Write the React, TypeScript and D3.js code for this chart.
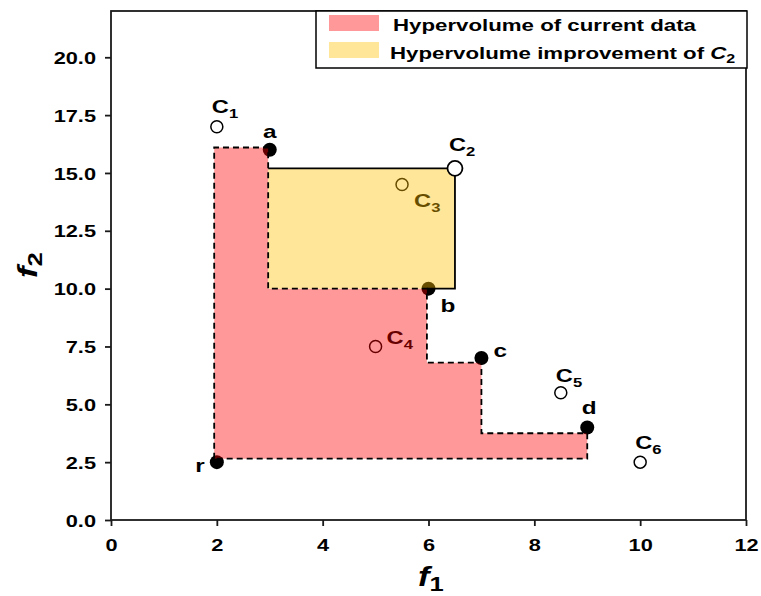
import React, { useEffect, useRef } from "react";
import * as d3 from "d3";

// tick labels
const xTicks = [0, 2, 4, 6, 8, 10, 12];
const yTicks = [0, 2.5, 5, 7.5, 10, 12.5, 15, 17.5, 20];

// current data (filled dots)
const dataNames = ["r", "a", "b", "c", "d"];
const dataF1 = [2, 3, 6, 7, 9];
const dataF2 = [2.5, 16, 10, 7, 4];

// candidates (open dots)
const candNames = ["1", "2", "3", "4", "5", "6"];
const candF1 = [2, 6.5, 5.5, 5, 8.5, 10];
const candF2 = [17, 15.2, 14.5, 7.5, 5.5, 2.5];

// hypervolume staircase of current data
const hvF1 = [1.95, 2.97, 5.97, 7.0, 9.0];
const hvF2 = [16.1, 10.0, 6.8, 3.75];
const hvRef = 2.65;

// improvement box of C2
const impF1 = [2.97, 6.5];
const impF2 = [10.0, 15.2];

const SX = 1.28; // text looks horizontally stretched in the original
const FONT = "'Liberation Sans', Arial, sans-serif";

// label offsets in px from the point
const dataLabelPos: { [k: string]: [number, number, string] } = {
  r: [-12, 10, "end"],
  a: [0, -12, "middle"],
  b: [12, 23, "start"],
  c: [12, -1, "start"],
  d: [2, -13, "middle"],
};
const candLabelPos: { [k: string]: [number, number] } = {
  "1": [-5, -14],
  "2": [-6, -17],
  "3": [12, 22],
  "4": [11, -2],
  "5": [-5, -11],
  "6": [-5, -13],
};

function Label(props: any) {
  return (
    <text
      transform={`translate(${props.x},${props.y}) scale(${SX},1)`}
      textAnchor={props.anchor || "start"}
      fontFamily={FONT}
      fontWeight="bold"
      fontSize={props.size || 18.5}
      fill="#000"
    >
      {props.children}
    </text>
  );
}

function App() {
  const xAxisRef = useRef<SVGGElement>(null);
  const yAxisRef = useRef<SVGGElement>(null);
  const margin = { top: 11, left: 111 };
  const width = 635;
  const height = 509;

  const x = d3.scaleLinear().domain([0, 12]).range([0, width]);
  const y = d3.scaleLinear().domain([0, 22]).range([height, 0]);

  useEffect(() => {
    const xa = d3.select(xAxisRef.current);
    xa.selectAll("*").remove();
    xa.call(
      d3.axisBottom(x).tickValues(xTicks).tickSize(6).tickSizeOuter(0).tickFormat(d3.format("d")) as any
    );
    xa.select(".domain").remove();
    xa.selectAll("line").attr("stroke", "#1a1a1a").attr("stroke-width", 1.8);
    xa.selectAll("text")
      .attr("y", 0)
      .attr("dy", null)
      .attr("transform", `translate(0,31) scale(${SX},1)`)
      .attr("font-family", FONT)
      .attr("font-weight", "bold")
      .attr("font-size", 17)
      .attr("fill", "#000");

    const ya = d3.select(yAxisRef.current);
    ya.selectAll("*").remove();
    ya.call(
      d3.axisLeft(y).tickValues(yTicks).tickSize(6).tickSizeOuter(0).tickFormat(d3.format(".1f")) as any
    );
    ya.select(".domain").remove();
    ya.selectAll("line").attr("stroke", "#1a1a1a").attr("stroke-width", 1.8);
    ya.selectAll("text")
      .attr("x", 0)
      .attr("dy", "0.36em")
      .attr("transform", `translate(-15,0) scale(${SX},1)`)
      .attr("font-family", FONT)
      .attr("font-weight", "bold")
      .attr("font-size", 17)
      .attr("fill", "#000");
  });

  // staircase polygon
  const stair: [number, number][] = [[hvF1[0], hvRef]];
  for (let i = 0; i < hvF2.length; i++) {
    stair.push([hvF1[i], hvF2[i]]);
    stair.push([hvF1[i + 1], hvF2[i]]);
  }
  stair.push([hvF1[hvF1.length - 1], hvRef]);
  const line = d3.line<[number, number]>().x((d) => x(d[0])).y((d) => y(d[1]));
  const stairPath = line(stair) + "Z";

  const boxSolid: [number, number][] = [
    [hvF1[2], impF2[0]],
    [impF1[1], impF2[0]],
    [impF1[1], impF2[1]],
    [impF1[0], impF2[1]],
  ];

  return (
    <svg width={761} height={596} style={{ position: "absolute", left: 0, top: 0 }}>
      <rect width={761} height={596} fill="#fff" />
      <g transform={`translate(${margin.left},${margin.top})`}>
        {/* current data points */}
        {dataNames.map((n, i) => (
          <circle key={n} cx={x(dataF1[i])} cy={y(dataF2[i])} r={7} fill="#000" />
        ))}
        {dataNames.map((n, i) => {
          const p = dataLabelPos[n];
          return (
            <Label key={"l" + n} x={x(dataF1[i]) + p[0]} y={y(dataF2[i]) + p[1]} anchor={p[2]} size={19}>
              {n}
            </Label>
          );
        })}
        {/* candidates except C2 (drawn on top later) */}
        {candNames.map((n, i) =>
          n === "2" ? null : (
            <circle key={"c" + n} cx={x(candF1[i])} cy={y(candF2[i])} r={6} fill="#fff" stroke="#000" strokeWidth={1.5} />
          )
        )}
        {candNames.map((n, i) => {
          const p = candLabelPos[n];
          return (
            <Label key={"cl" + n} x={x(candF1[i]) + p[0]} y={y(candF2[i]) + p[1]}>
              C<tspan fontSize={13} dy={5}>{n}</tspan>
            </Label>
          );
        })}

        {/* hypervolume areas, semi transparent over the points */}
        <path d={stairPath} fill="#ff0000" fillOpacity={0.4} stroke="none" />
        <rect
          x={x(impF1[0])}
          y={y(impF2[1])}
          width={x(impF1[1]) - x(impF1[0])}
          height={y(impF2[0]) - y(impF2[1])}
          fill="#ffc000"
          fillOpacity={0.4}
        />
        <path d={line(boxSolid) || ""} fill="none" stroke="#000" strokeWidth={1.8} />
        <path d={stairPath} fill="none" stroke="#000" strokeWidth={1.8} strokeDasharray="6,4" />

        {/* C2 on top */}
        <circle cx={x(candF1[1])} cy={y(candF2[1])} r={7.5} fill="#fff" stroke="#000" strokeWidth={1.8} />

        {/* axes */}
        <g ref={xAxisRef} transform={`translate(0,${height})`} />
        <g ref={yAxisRef} />
        <rect width={width} height={height} fill="none" stroke="#1a1a1a" strokeWidth={1.8} />
      </g>

      {/* legend */}
      <g>
        <rect x={316} y={11} width={431} height={57} fill="#fff" stroke="#000" strokeWidth={1.5} />
        <rect x={329} y={15} width={50} height={16} fill="#ff0000" fillOpacity={0.4} />
        <rect x={329} y={42} width={50} height={16} fill="#ffc000" fillOpacity={0.4} />
        <Label x={393} y={31} size={17.4}>Hypervolume of current data</Label>
        <Label x={390} y={59} size={17.4}>
          Hypervolume improvement of <tspan fontStyle="italic">C</tspan>
          <tspan fontSize={12.5} dy={4}>2</tspan>
        </Label>
      </g>

      {/* axis titles */}
      <text transform={`translate(418,586) scale(${SX},1)`} fontFamily={FONT} fontWeight="bold" fontSize={27}>
        <tspan fontStyle="italic">f</tspan>
        <tspan fontSize={20} dy={5}>1</tspan>
      </text>
      <text transform={`translate(37,278) rotate(-90) scale(${SX},1)`} fontFamily={FONT} fontWeight="bold" fontSize={27}>
        <tspan fontStyle="italic">f</tspan>
        <tspan fontSize={20} dy={5}>2</tspan>
      </text>
    </svg>
  );
}

export default App;
